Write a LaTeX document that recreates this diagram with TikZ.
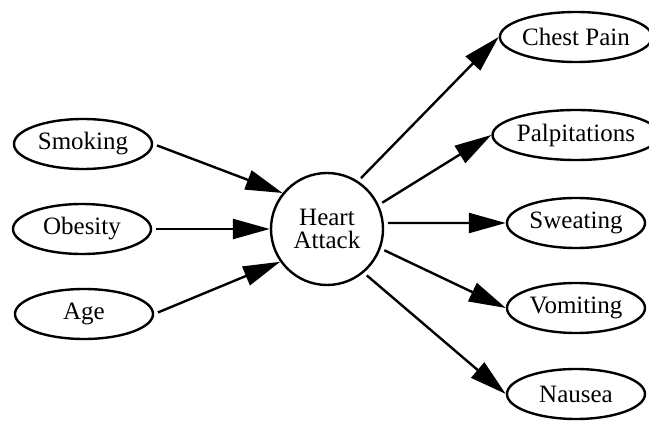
\documentclass[tikz,border=0pt]{standalone}
\usepackage{fontspec}
\setmainfont{Liberation Serif}
\usetikzlibrary{shapes.geometric,arrows.meta}
\begin{document}
\begin{tikzpicture}[x=1pt,y=-1pt,
  oval/.style={draw,ellipse,line width=2.4pt,minimum width=138pt,minimum height=50pt,inner sep=0pt,font=\fontsize{25}{23}\selectfont},
  hub/.style={draw,circle,line width=2.4pt,minimum size=112pt,inner sep=0pt,align=center,font=\fontsize{25}{23}\selectfont},
  arr/.style={line width=2.4pt,-{Triangle[length=37pt,width=20pt]},shorten <=4pt}]
\useasboundingbox (0,0) rectangle (649,422);
\node[hub] (heart) at (327,229) {Heart\\Attack};
\node[oval] (smoking) at (83,144) {Smoking};
\node[oval] (obesity) at (82,229) {Obesity};
\node[oval] (age) at (84,314) {Age};
\node[oval] (chest) at (576,37) {Chest Pain};
\node[oval] (palp) at (576,135) {Palpitations};
\node[oval] (sweat) at (576,223) {Sweating};
\node[oval] (vomit) at (576,308) {Vomiting};
\node[oval] (nausea) at (576,394) {Nausea};
\draw[arr] (smoking.east) -- (heart.141);
\draw[arr] (obesity.east) -- (heart.180);
\draw[arr] (age.east) -- (heart.215);
\draw[arr] (heart.57) -- (chest.west);
\draw[arr] (heart.25) -- (palp.west);
\draw[arr] (heart.6) -- (sweat.west);
\draw[arr] (heart.-20) -- (vomit.west);
\draw[arr] (heart.-50) -- (nausea.west);
\end{tikzpicture}
\end{document}
